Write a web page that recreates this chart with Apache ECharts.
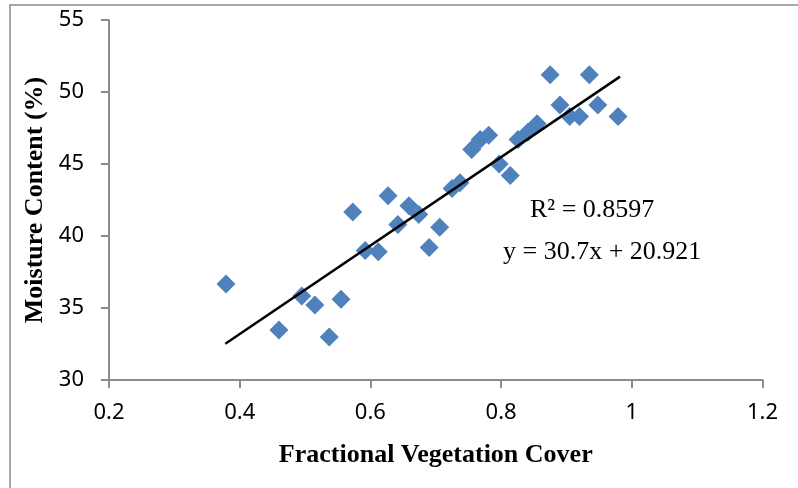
<!DOCTYPE html>
<html>
<head>
<meta charset="utf-8">
<script src="https://cdn.jsdelivr.net/npm/echarts@6/dist/echarts.min.js"></script>
<style>html,body{margin:0;padding:0;background:#fff;}#c{width:798px;height:488px;}</style>
</head>
<body>
<div id="c"></div>
<script>
var fvc = [0.379,0.46,0.495,0.515,0.537,0.555,0.573,0.592,0.612,0.627,0.642,0.659,0.674,0.69,0.706,0.725,0.737,0.755,0.768,0.781,0.797,0.814,0.826,0.841,0.855,0.875,0.89,0.905,0.92,0.935,0.948,0.979];
var moisture = [36.67,33.47,35.83,35.2,32.99,35.6,41.67,39.0,38.9,42.8,40.8,42.1,41.5,39.2,40.6,43.3,43.7,46.0,46.7,47.0,45.0,44.2,46.7,47.2,47.8,51.2,49.1,48.3,48.3,51.2,49.1,48.3];
var trendX = [0.378, 0.982];
var trendY = [32.52, 51.07];
var xTicks = ['0.2','0.4','0.6','0.8','1','1.2'];
var yTicks = ['30','35','40','45','50','55'];
var r2Text = 'R² = 0.8597';
var eqText = 'y = 30.7x + 20.921';

var pts = fvc.map(function(v,i){return [v, moisture[i]];});
var trend = trendX.map(function(v,i){return [v, trendY[i]];});

var chart = echarts.init(document.getElementById('c'), null, {renderer:'canvas'});
var axisCol = '#8c8c8c';
chart.setOption({
  animation:false,
  backgroundColor:'#fff',
  grid:{left:109, right:35.5, top:20, bottom:108},
  xAxis:{
    type:'value', min:0.2, max:1.2, interval:0.2,
    name:'Fractional Vegetation Cover', nameLocation:'middle', nameGap:62,
    nameTextStyle:{fontFamily:'Liberation Serif', fontWeight:'bold', fontSize:26, color:'#000'},
    axisLine:{show:true, onZero:false, lineStyle:{color:axisCol, width:2}},
    axisTick:{show:true, inside:false, length:8, lineStyle:{color:axisCol, width:2}},
    axisLabel:{margin:22, fontFamily:'Noto Sans', fontSize:22, color:'#000',
      formatter:function(v){var i=Math.round((v-0.2)/0.2);return xTicks[i]||'';}},
    splitLine:{show:false}
  },
  yAxis:{
    type:'value', min:30, max:55, interval:5,
    name:'Moisture Content (%)', nameLocation:'middle', nameGap:61,
    nameTextStyle:{fontFamily:'Liberation Serif', fontWeight:'bold', fontSize:26, color:'#000'},
    axisLine:{show:true, lineStyle:{color:axisCol, width:2}},
    axisTick:{show:true, inside:false, length:8, lineStyle:{color:axisCol, width:2}},
    axisLabel:{margin:25, fontFamily:'Noto Sans', fontSize:22, color:'#000',
      formatter:function(v){var i=Math.round((v-30)/5);return yTicks[i]||'';}},
    splitLine:{show:false}
  },
  graphic:[
    {type:'rect', shape:{x:10, y:5, width:800, height:500}, style:{fill:'none', stroke:'#8c8c8c', lineWidth:1.5}, silent:true, z:-10},
    {type:'text', left:530, top:197, style:{text:r2Text, font:'26px "Liberation Serif"', fill:'#000'}},
    {type:'text', left:503, top:239, style:{text:eqText, font:'26px "Liberation Serif"', fill:'#000'}}
  ],
  series:[
    {type:'scatter', data:pts, symbol:'diamond', symbolSize:19,
     itemStyle:{color:'#4F81BD', opacity:1}, z:3},
    {type:'line', data:trend, symbol:'none', lineStyle:{color:'#000', width:2.5}, z:4}
  ]
});
</script>
</body>
</html>
